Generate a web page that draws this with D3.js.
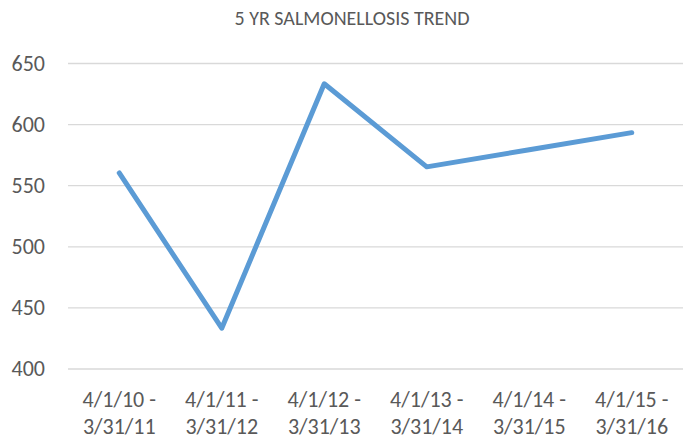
<!DOCTYPE html>
<html>
<head>
<meta charset="utf-8">
<script src="https://cdn.jsdelivr.net/npm/d3@7"></script>
<style>
  body { margin: 0; background: #fff; }
  svg text { font-family: Carlito, Calibri, "Open Sans", sans-serif; fill: #595959; }
</style>
</head>
<body>
<svg id="chart" width="692" height="440"></svg>
<script>
'use strict';

var periodStarts = ["4/1/10 -", "4/1/11 -", "4/1/12 -", "4/1/13 -", "4/1/14 -", "4/1/15 -"];
var periodEnds = ["3/31/11", "3/31/12", "3/31/13", "3/31/14", "3/31/15", "3/31/16"];
var cases = [560, 433, 633, 565, 579, 593];
var yTicks = [400, 450, 500, 550, 600, 650];

var drawChart = (function () {
  var svg = d3.select("#chart");
  var plotLeft = 68, plotRight = 683, plotTop = 63, plotBottom = 368.5;

  var x = d3.scaleBand().domain(d3.range(cases.length)).range([plotLeft, plotRight]);
  var y = d3.scaleLinear().domain([400, 650]).range([plotBottom, plotTop]);

  svg.append("text")
    .attr("x", 352)
    .attr("y", 25)
    .attr("text-anchor", "middle")
    .attr("font-size", "20px")
    .text("5 YR SALMONELLOSIS TREND");

  // gridlines + y labels
  var yAxis = svg.append("g")
    .attr("transform", "translate(" + plotLeft + ",0)")
    .call(d3.axisLeft(y).tickValues(yTicks).tickSize(-(plotRight - plotLeft)).tickPadding(23));
  yAxis.select(".domain").remove();
  yAxis.selectAll(".tick line").attr("stroke", "#d9d9d9").attr("stroke-width", 1.3);
  yAxis.selectAll(".tick text").attr("font-size", "22px");

  // x labels, two lines each
  var xAxis = svg.append("g")
    .attr("transform", "translate(0," + plotBottom + ")")
    .call(d3.axisBottom(x).tickSize(0).tickFormat(""));
  xAxis.select(".domain").remove();
  xAxis.selectAll(".tick text").remove();
  xAxis.selectAll(".tick").each(function(d) {
    var t = d3.select(this).append("text")
      .attr("text-anchor", "middle")
      .attr("font-size", "22px");
    t.append("tspan").attr("x", 0).attr("y", 38).text(periodStarts[d]);
    t.append("tspan").attr("x", 0).attr("y", 65).text(periodEnds[d]);
  });

  var line = d3.line()
    .x(function(d, i) { return x(i) + x.bandwidth() / 2; })
    .y(function(d) { return y(d); });

  svg.append("path")
    .datum(cases)
    .attr("d", line)
    .attr("fill", "none")
    .attr("stroke", "#5b9bd5")
    .attr("stroke-width", 5)
    .attr("stroke-linecap", "round")
    .attr("stroke-linejoin", "round");
})();
</script>
</body>
</html>
